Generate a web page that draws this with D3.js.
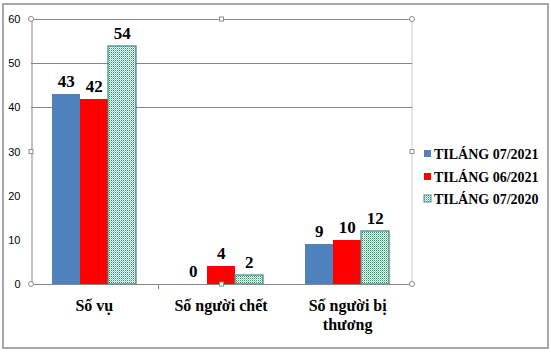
<!DOCTYPE html>
<html>
<head>
<meta charset="utf-8">
<script src="https://cdn.jsdelivr.net/npm/d3@7/dist/d3.min.js"></script>
<style>
  html, body { margin: 0; padding: 0; background: #fff; }
  svg { display: block; }
  .serif { font-family: "Liberation Serif", Tinos, "Times New Roman", Times, "Nimbus Roman", FreeSerif, "Noto Serif", "DejaVu Serif", serif; }
</style>
</head>
<body>
<svg id="chart" width="551" height="359"></svg>
<script>
// ---- data ----
const categories = ["Số vụ", "Số người chết", "Số người bị thương"];
const seriesNames = ["TILÁNG 07/2021", "TILÁNG 06/2021", "TILÁNG 07/2020"];
const thang072021 = [43, 0, 9];
const thang062021 = [42, 4, 10];
const thang072020 = [54, 2, 12];
const yTickValues = [0, 10, 20, 30, 40, 50, 60];
const gridValues = [40, 50, 60];

const seriesValues = [thang072021, thang062021, thang072020];

// ---- layout ----
const plot = { left: 31, right: 412, top: 19, bottom: 284 };
const sans = "'Liberation Sans', Arial, sans-serif";
const fills = ["#4F81BD", "#FF0000", "url(#dots)"];
const strokes = ["none", "none", "#4A8C8C"];

const svg = d3.select("#chart");

// pattern for the third series
const defs = svg.append("defs");
const pat = defs.append("pattern").attr("id", "dots")
  .attr("patternUnits", "userSpaceOnUse").attr("width", 2).attr("height", 2);
pat.append("rect").attr("width", 2).attr("height", 2).attr("fill", "#ffffff");
pat.append("rect").attr("x", 0).attr("y", 0).attr("width", 1).attr("height", 1).attr("fill", "#1E9C63");
pat.append("rect").attr("x", 1).attr("y", 1).attr("width", 1).attr("height", 1).attr("fill", "#8FD6B2");

// outer frame
svg.append("rect").attr("x", 3).attr("y", 4).attr("width", 545).attr("height", 344)
  .attr("fill", "#fff").attr("stroke", "#a8a8a8").attr("stroke-width", 2);

// scales
const x = d3.scaleBand().domain(categories).range([plot.left, plot.right - 1]).paddingInner(0).paddingOuter(0);
const xs = d3.scaleBand().domain(d3.range(seriesNames.length)).range([0, x.bandwidth()])
  .paddingInner(0).paddingOuter(0.76);
const y = d3.scaleLinear().domain([0, 60]).range([plot.bottom, plot.top]);

// plot-area right border (light)
svg.append("line").attr("x1", plot.right).attr("x2", plot.right)
  .attr("y1", plot.top).attr("y2", plot.bottom)
  .attr("stroke", "#c8c8c8").attr("stroke-width", 1);

// gridlines
svg.append("g").selectAll("line").data(gridValues).join("line")
  .attr("x1", plot.left).attr("x2", plot.right)
  .attr("y1", d => Math.round(y(d)) + 0.5).attr("y2", d => Math.round(y(d)) + 0.5)
  .attr("stroke", "#868686").attr("stroke-width", 1);

// y axis
const yAxis = d3.axisLeft(y).tickValues(yTickValues).tickSize(0).tickPadding(11).tickFormat(d3.format("d"));
const gy = svg.append("g").attr("transform", `translate(${plot.left + 0.5},0)`).call(yAxis);
gy.attr("font-family", null).attr("font-size", null);
gy.select(".domain").attr("stroke", "#868686");
gy.selectAll("text").style("font-family", sans).style("font-size", "11px").attr("fill", "#000");

// bars
const groups = svg.append("g").selectAll("g").data(categories).join("g")
  .attr("transform", d => `translate(${Math.round(x(d))},0)`);
groups.selectAll("rect").data((c, ci) => seriesValues.map((s, si) => ({ si, v: s[ci] })))
  .join("rect")
  .attr("x", d => Math.round(xs(d.si)))
  .attr("width", Math.round(xs.bandwidth()))
  .attr("y", d => Math.round(y(d.v)))
  .attr("height", d => Math.round(y(0)) - Math.round(y(d.v)))
  .attr("fill", d => fills[d.si])
  .attr("stroke", d => strokes[d.si])
  .attr("stroke-width", 1.3);

// value labels
groups.selectAll("text.val").data((c, ci) => seriesValues.map((s, si) => ({ si, v: s[ci] })))
  .join("text").attr("class", "val serif")
  .attr("x", d => xs(d.si) + xs.bandwidth() / 2)
  .attr("y", d => y(d.v) - 7)
  .attr("text-anchor", "middle")
  .style("font-weight", "bold").style("font-size", "17px")
  .attr("fill", "#000")
  .text(d => d.v);

// x axis
const xAxis = d3.axisBottom(x).tickSize(0).tickFormat("");
const gx = svg.append("g").attr("transform", `translate(0,${plot.bottom + 0.5})`).call(xAxis);
gx.select(".domain").attr("stroke", "#868686").attr("d", `M${plot.left},0H${plot.right}`);
// category boundary tick
svg.append("line").attr("x1", Math.round(x(categories[1])) + 0.5).attr("x2", Math.round(x(categories[1])) + 0.5)
  .attr("y1", plot.bottom).attr("y2", plot.bottom + 5).attr("stroke", "#868686");

// category labels with wrapping
const catLabels = svg.append("g").selectAll("text").data(categories).join("text")
  .attr("class", "serif")
  .attr("x", d => x(d) + x.bandwidth() / 2)
  .attr("y", 311)
  .attr("text-anchor", "middle")
  .style("font-weight", "bold").style("font-size", "16px")
  .attr("fill", "#000");
catLabels.each(function (d) {
  const t = d3.select(this);
  const words = d.split(" ");
  const maxW = x.bandwidth() * 0.85;
  let line = [];
  let lines = [];
  const probe = t.append("tspan");
  words.forEach(w => {
    const test = line.concat(w).join(" ");
    probe.text(test);
    if (probe.node().getComputedTextLength() > maxW && line.length) {
      lines.push(line.join(" "));
      line = [w];
    } else {
      line.push(w);
    }
  });
  lines.push(line.join(" "));
  probe.remove();
  lines.forEach((l, i) => {
    t.append("tspan").attr("x", x(d) + x.bandwidth() / 2).attr("dy", i === 0 ? 0 : 19).text(l);
  });
});

// selection handles of plot area
const handleColor = "#8c8c8c";
const cx = [plot.left, plot.right];
const cy = [plot.top, plot.bottom];
cx.forEach(a => cy.forEach(b => {
  svg.append("circle").attr("cx", a).attr("cy", b).attr("r", 2.5)
    .attr("fill", "#fff").attr("stroke", handleColor);
}));
const midX = (plot.left + plot.right) / 2, midY = (plot.top + plot.bottom) / 2;
[[midX, plot.top], [midX, plot.bottom], [plot.left, midY], [plot.right, midY]].forEach(([a, b]) => {
  svg.append("rect").attr("x", a - 2).attr("y", b - 2).attr("width", 4).attr("height", 4)
    .attr("fill", "#fff").attr("stroke", handleColor);
});

// legend
const legend = svg.append("g").attr("transform", "translate(424,154)");
const li = legend.selectAll("g").data(seriesNames).join("g")
  .attr("transform", (d, i) => `translate(0,${Math.round(i * 22.5)})`);
li.append("rect").attr("x", 0).attr("y", -4).attr("width", 7).attr("height", 7)
  .attr("fill", (d, i) => fills[i]).attr("stroke", (d, i) => strokes[i]).attr("stroke-width", 1);
li.append("text").attr("class", "serif").attr("x", 10).attr("y", 4.5)
  .style("font-weight", "bold").style("font-size", "14px")
  .attr("fill", "#000").text(d => d);
</script>
</body>
</html>
